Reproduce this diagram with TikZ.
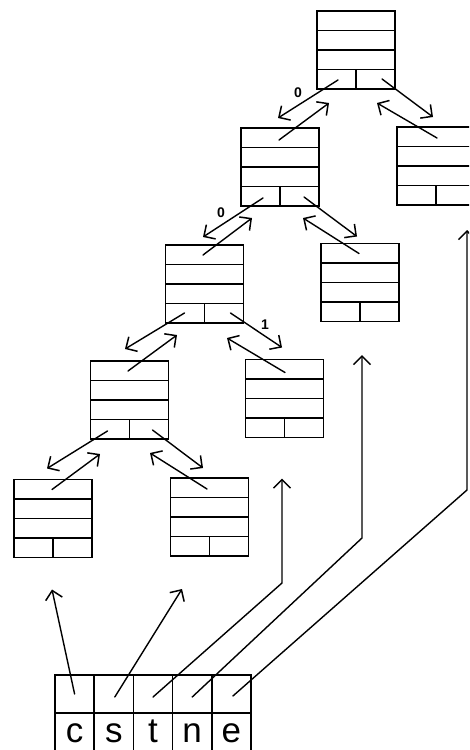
\documentclass[tikz,border=0pt]{standalone}
\usepackage{fontspec}
\newfontfamily\cellfont{Liberation Sans}
\usetikzlibrary{arrows.meta,calc}
\begin{document}
\begin{tikzpicture}[x=1pt,y=-1pt,
  rec/.style={draw,line width=1.7pt,minimum width=78pt,minimum height=78pt,inner sep=0pt,outer sep=0pt},
  boxline/.style={line width=1.7pt},
  cell/.style={draw,line width=1.5pt,minimum width=39.2pt,minimum height=38pt,inner sep=0pt,outer sep=0pt,
    font=\cellfont\fontsize{35}{35}\selectfont,text height=20pt,text depth=0pt},
  link/.style={line width=1.4pt,line cap=round,-{Straight Barb[length=8.5pt,width=17pt,line width=1.5pt]}},
  lab/.style={font=\cellfont\bfseries\fontsize{14}{14}\selectfont,inner sep=0pt}]
\useasboundingbox (0,0) rectangle (469,750);
\clip (0,0) rectangle (469,750);

% record boxes
\node[rec] (R)  at (356,50)    {};
\node[rec] (RR) at (436,166)   {};
\node[rec] (A)  at (280,167)   {};
\node[rec] (AR) at (360,282.5) {};
\node[rec] (B)  at (204.5,284) {};
\node[rec] (BR) at (284.5,398.5) {};
\node[rec] (C)  at (129.5,400) {};
\node[rec] (D)  at (53,518.5)  {};
\node[rec] (E)  at (209.5,517) {};

\foreach \n in {R,RR,A,AR,B,BR,C,D,E} {
  \foreach \f in {0.25,0.5,0.75}
    \draw[boxline] ($(\n.north west)!\f!(\n.south west)$) -- ($(\n.north east)!\f!(\n.south east)$);
  \draw[boxline] ($(\n.north)!0.75!(\n.south)$) -- (\n.south);
}

% tree links
\draw[link] ($(R.south west)+(21,-9)$)  -- ($(A.north)+(-2,-10)$);
\draw[link] ($(A.north)+(-1,12)$)       -- ($(R.south)+(-27,14)$);
\draw[link] ($(R.south east)+(-13,-10)$) -- ($(RR.north)+(-3,-10)$);
\draw[link] ($(RR.north)+(1,11)$)       -- ($(R.south)+(21,14)$);

\draw[link] ($(A.south west)+(22,-8)$)  -- ($(B.north)+(-1.5,-8)$);
\draw[link] ($(B.north)+(-1.5,10)$)     -- ($(A.south)+(-28,12)$);
\draw[link] ($(A.south east)+(-15,-9)$) -- ($(AR.north)+(-3,-7)$);
\draw[link] ($(AR.north)+(-1,10)$)      -- ($(A.south)+(23,12)$);

\draw[link] ($(B.south west)+(19,-10)$) -- ($(C.north)+(-4.5,-12)$);
\draw[link] ($(C.north)+(-1.5,10)$)     -- ($(B.south)+(-27.5,12)$);
\draw[link] ($(B.south east)+(-13,-10)$) -- ($(BR.north)+(-2.5,-12)$);
\draw[link] ($(BR.north)+(0.5,13)$)     -- ($(B.south)+(22.5,15)$);

\draw[link] ($(C.south west)+(17,-8)$)  -- ($(D.north)+(-6,-11)$);
\draw[link] ($(D.north)+(-1,10)$)       -- ($(C.south)+(-29.5,15)$);
\draw[link] ($(C.south east)+(-16,-9)$) -- ($(E.north)+(-6.5,-10)$);
\draw[link] ($(E.north)+(-2.5,11)$)     -- ($(C.south)+(20.5,14)$);

% edge labels
\node[lab] (l0a) at (298,93)  {0};
\node[lab] (l0b) at (221,213) {0};
\node[lab] (l1)  at (265,325) {1};

% array
\foreach \i/\l in {1/c,2/s,3/t,4/n,5/e} {
  \node[cell] (t\i) at ({74.6+39.2*(\i-1)},694) {};
  \node[cell] (b\i) at ({74.6+39.2*(\i-1)},732) {\l};
}

\coordinate (kt) at (282,583);
\coordinate (kn) at (362,538);
\coordinate (ke) at (467,490);

\draw[link] (t1.center) -- ($(D.south)+(-1,32)$);
\draw[link] ($(t2.center)+(1,3)$) -- ($(E.south)+(-27.5,33)$);
\draw[link] ($(t3.center)+(0,3)$) -- (kt) -- ($(BR.south)+(-2.5,41)$);
\draw[link] ($(t4.center)+(0,3)$) -- (kn) -- ($(AR.south)+(2,33.5)$);
\draw[link] ($(t5.center)+(1.5,2)$) -- (ke) -- ($(RR.south)+(31,25)$);
\end{tikzpicture}
\end{document}
